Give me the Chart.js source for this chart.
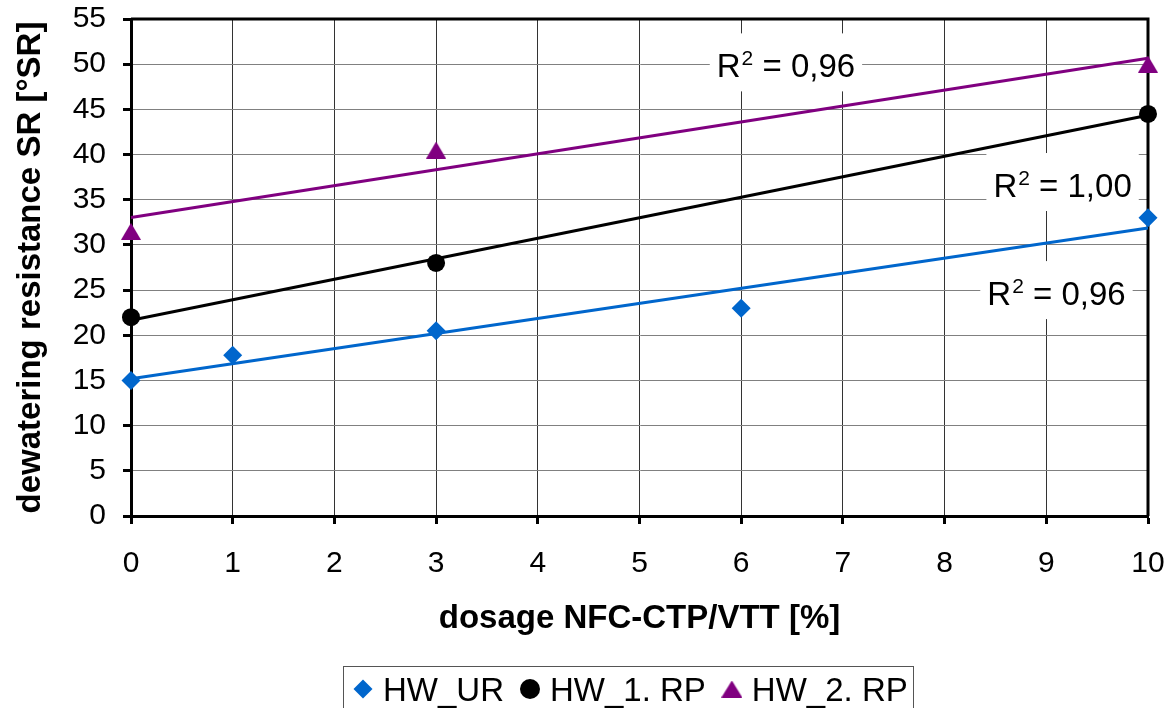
<!DOCTYPE html>
<html>
<head>
<meta charset="utf-8">
<script src="https://cdn.jsdelivr.net/npm/chart.js@4.4.1/dist/chart.umd.min.js"></script>
<style>
  html, body { margin: 0; padding: 0; background: #ffffff; }
  canvas { display: block; }
</style>
</head>
<body>
<canvas id="chart" width="1171" height="708"></canvas>
<script>
const FONT = "'Liberation Sans', Arial, Helvetica, sans-serif";

// Measured dewatering resistance per NFC dosage
const dosageUR = [0, 1, 3, 6, 10];
const srUR = [15, 17.8, 20.5, 23, 33];
const dosageRP = [0, 3, 10];
const sr1RP = [22, 28, 44.5];
const sr2RP = [31.5, 40.5, 50];

const seriesNames = ['HW_UR', 'HW_1. RP', 'HW_2. RP'];
const seriesColors = ['#0066CC', '#000000', '#800080'];

// Where each R² annotation sits (x, y in data units)
const r2Anchors = [[9.10, 25.0], [9.16, 36.96], [6.44, 50.2]];

// Least-squares trend line and coefficient of determination
function linearFit(xs, ys) {
  const n = xs.length;
  const mx = xs.reduce((s, v) => s + v, 0) / n;
  const my = ys.reduce((s, v) => s + v, 0) / n;
  let sxy = 0, sxx = 0, syy = 0;
  for (let i = 0; i < n; i++) {
    sxy += (xs[i] - mx) * (ys[i] - my);
    sxx += (xs[i] - mx) * (xs[i] - mx);
    syy += (ys[i] - my) * (ys[i] - my);
  }
  const slope = sxy / sxx;
  const intercept = my - slope * mx;
  let ssRes = 0;
  for (let i = 0; i < n; i++) {
    const e = ys[i] - (intercept + slope * xs[i]);
    ssRes += e * e;
  }
  return { slope, intercept, r2: 1 - ssRes / syy };
}

const fits = [
  linearFit(dosageUR, srUR),
  linearFit(dosageRP, sr1RP),
  linearFit(dosageRP, sr2RP)
];

function toPoints(xs, ys) {
  return xs.map((x, i) => ({ x: x, y: ys[i] }));
}
function trendPoints(f) {
  return [0, 10].map(x => ({ x: x, y: f.intercept + f.slope * x }));
}

// Upright triangle marker centred on its bounding box
function triangleMarker(w, h, color) {
  const c = document.createElement('canvas');
  c.width = w; c.height = h;
  const g = c.getContext('2d');
  g.fillStyle = color;
  g.beginPath();
  g.moveTo(w / 2, 0);
  g.lineTo(w, h);
  g.lineTo(0, h);
  g.closePath();
  g.fill();
  return c;
}
const plotTriangle = triangleMarker(20, 17, seriesColors[2]);
const legendTriangle = triangleMarker(21, 17, seriesColors[2]);

// Thick frame along the top and right of the plot area
const frame = {
  id: 'frame',
  beforeDatasetsDraw(chart) {
    const { ctx, chartArea: a } = chart;
    ctx.save();
    ctx.strokeStyle = '#000';
    ctx.lineWidth = 3;
    ctx.beginPath();
    ctx.moveTo(a.left, a.top);
    ctx.lineTo(a.right, a.top);
    ctx.lineTo(a.right, a.bottom);
    ctx.stroke();
    ctx.restore();
  }
};

// R² annotations on white boxes
const r2Text = {
  id: 'r2Text',
  beforeDatasetsDraw(chart) {
    const { ctx, scales } = chart;
    ctx.save();
    fits.forEach((f, i) => {
      const cx = scales.x.getPixelForValue(r2Anchors[i][0]);
      const cy = scales.y.getPixelForValue(r2Anchors[i][1]);
      const value = f.r2.toFixed(2).replace('.', ',');
      const mainFont = '33px ' + FONT;
      const supFont = '21px ' + FONT;
      ctx.font = mainFont;
      const wR = ctx.measureText('R').width;
      const wRest = ctx.measureText(' = ' + value).width;
      ctx.font = supFont;
      const wSup = ctx.measureText('2').width;
      const total = wR + 1 + wSup + wRest;
      ctx.fillStyle = '#ffffff';
      ctx.fillRect(cx - total / 2 - 7, cy - 29, total + 14, 58);
      const base = cy + 15;
      let x = cx - total / 2;
      ctx.fillStyle = '#000';
      ctx.textBaseline = 'alphabetic';
      ctx.textAlign = 'left';
      ctx.font = mainFont;
      ctx.fillText('R', x, base);
      x += wR + 1;
      ctx.font = supFont;
      ctx.fillText('2', x, base - 12);
      x += wSup;
      ctx.font = mainFont;
      ctx.fillText(' = ' + value, x, base);
    });
    ctx.restore();
  }
};

// Boxed legend below the axis title
const boxedLegend = {
  id: 'boxedLegend',
  afterDraw(chart) {
    const ctx = chart.ctx;
    ctx.save();
    ctx.strokeStyle = '#555';
    ctx.lineWidth = 1;
    ctx.strokeRect(343.5, 666.5, 570, 60);
    ctx.font = '33px ' + FONT;
    ctx.textBaseline = 'alphabetic';
    ctx.textAlign = 'left';
    const cy = 689;
    let x = 353;
    seriesNames.forEach((name, i) => {
      const mx = x + 10;
      ctx.fillStyle = seriesColors[i];
      ctx.beginPath();
      if (i === 0) {
        ctx.moveTo(mx, cy - 9.5);
        ctx.lineTo(mx + 9.5, cy);
        ctx.lineTo(mx, cy + 9.5);
        ctx.lineTo(mx - 9.5, cy);
        ctx.closePath();
        ctx.fill();
      } else if (i === 1) {
        ctx.arc(mx, cy, 10, 0, Math.PI * 2);
        ctx.fill();
      } else {
        ctx.drawImage(legendTriangle, mx - legendTriangle.width / 2, cy - legendTriangle.height / 2);
      }
      ctx.fillStyle = '#000';
      ctx.fillText(name, x + 30, cy + 12);
      x += 30 + ctx.measureText(name).width + 16;
    });
    ctx.restore();
  }
};

const tickFont = { family: FONT, size: 30 };
const titleFont = { family: FONT, size: 33, weight: 'bold' };

new Chart(document.getElementById('chart'), {
  type: 'scatter',
  data: {
    datasets: [
      {
        label: seriesNames[0], data: toPoints(dosageUR, srUR),
        pointStyle: 'rectRot', pointRadius: 9.5, pointBackgroundColor: seriesColors[0],
        pointBorderWidth: 0, borderColor: seriesColors[0], order: 0, clip: false
      },
      {
        label: seriesNames[1], data: toPoints(dosageRP, sr1RP),
        pointStyle: 'circle', pointRadius: 9, pointBackgroundColor: seriesColors[1],
        pointBorderWidth: 0, borderColor: seriesColors[1], order: 0, clip: false
      },
      {
        label: seriesNames[2], data: toPoints(dosageRP, sr2RP),
        pointStyle: plotTriangle, pointRadius: 10, pointBackgroundColor: seriesColors[2],
        pointBorderWidth: 0, borderColor: seriesColors[2], order: 0, clip: false
      },
      ...fits.map((f, i) => ({
        type: 'line', label: seriesNames[i] + ' trend', data: trendPoints(f),
        borderColor: seriesColors[i], borderWidth: 3, pointRadius: 0,
        fill: false, tension: 0, order: 5, clip: false
      }))
    ]
  },
  options: {
    responsive: false,
    animation: false,
    devicePixelRatio: 1,
    layout: { padding: { top: 19, right: 23, bottom: 62, left: 0 } },
    plugins: { legend: { display: false }, tooltip: { enabled: false } },
    scales: {
      x: {
        type: 'linear', min: 0, max: 10,
        ticks: { stepSize: 1, color: '#000', font: tickFont, padding: 22, maxRotation: 0 },
        grid: { color: '#333', lineWidth: 1, tickLength: 8, tickColor: '#000', tickWidth: 3 },
        border: { display: true, color: '#000', width: 3 },
        title: {
          display: true, text: 'dosage NFC-CTP/VTT [%]', color: '#000',
          font: titleFont, padding: { top: 0, bottom: 7 }
        },
        afterFit(s) { s.height = 130; s.paddingLeft = 0; s.paddingRight = 0; }
      },
      y: {
        type: 'linear', min: 0, max: 55,
        ticks: { stepSize: 5, color: '#000', font: tickFont, padding: 17 },
        grid: { color: '#808080', lineWidth: 1, tickLength: 8, tickColor: '#000', tickWidth: 3 },
        border: { display: true, color: '#000', width: 3 },
        title: {
          display: true, text: 'dewatering resistance SR [°SR]', color: '#000',
          font: titleFont, padding: { top: 11, bottom: 0 }
        },
        afterFit(s) { s.width = 131; s.paddingTop = 0; s.paddingBottom = 0; }
      }
    }
  },
  plugins: [frame, r2Text, boxedLegend]
});
</script>
</body>
</html>
